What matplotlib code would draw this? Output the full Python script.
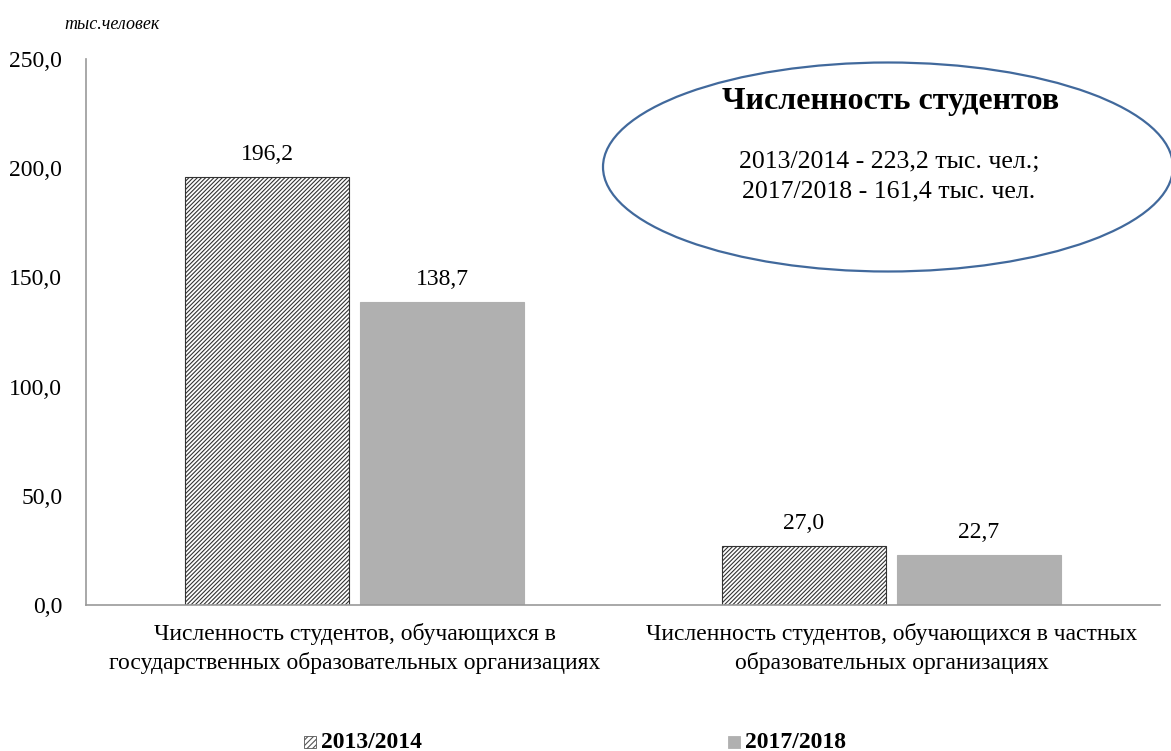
import numpy as np
import matplotlib.pyplot as plt
from matplotlib.patches import Ellipse, Rectangle

plt.rcParams['font.family'] = ['Liberation Serif', 'DejaVu Serif']
plt.rcParams['hatch.linewidth'] = 0.8

categories = ['Численность студентов, обучающихся в\nгосударственных образовательных организациях',
              'Численность студентов, обучающихся в частных\nобразовательных организациях']
years = ['2013/2014', '2017/2018']
vals_2013 = [196.2, 27.0]
vals_2018 = [138.7, 22.7]
yticks = [0, 50, 100, 150, 200, 250]

fig = plt.figure(figsize=(11.71, 7.51), dpi=100)
ax = fig.add_axes([0.0734, 0.1944, 0.9172, 0.727])

x = np.arange(len(categories))
w = 0.304
off = 0.163
b1 = ax.bar(x - off, vals_2013, w, color='white', edgecolor='#333333', hatch='////////', linewidth=0.8)
b2 = ax.bar(x + off, vals_2018, w, color='#b0b0b0', edgecolor='#b0b0b0', linewidth=0.8)
for bars, vals in ((b1, vals_2013), (b2, vals_2018)):
    for r, v in zip(bars, vals):
        ax.text(r.get_x() + r.get_width() / 2, v + 5.5, f'{v:.1f}'.replace('.', ','),
                ha='center', va='bottom', fontsize=17)

ax.set_xlim(-0.5, 1.5)
ax.set_ylim(0, 250)
ax.set_yticks(yticks)
ax.set_yticklabels([f'{t:.1f}'.replace('.', ',') for t in yticks], fontsize=17)
ax.set_xticks(x)
ax.set_xticklabels(categories, fontsize=17, linespacing=1.4)
ax.tick_params(length=0)
ax.tick_params(axis='x', pad=13)
ax.tick_params(axis='y', pad=17)
for s in ('top', 'right'):
    ax.spines[s].set_visible(False)
for s in ('left', 'bottom'):
    ax.spines[s].set_color('#999999')
    ax.spines[s].set_linewidth(1.2)

fig.text(0.055, 0.968, 'тыс.человек', fontsize=13, style='italic', va='center')

# ellipse with summary
ell = Ellipse((888 / 1171, 1 - 167 / 751), 570 / 1171, 209 / 751, transform=fig.transFigure,
              facecolor='white', edgecolor='#41699c', linewidth=1.6, clip_on=False)
fig.patches.append(ell)
fig.text(891 / 1171, 1 - 102 / 751, 'Численность студентов', fontsize=23, fontweight='bold',
         ha='center', va='center')
fig.text(889 / 1171, 1 - 177 / 751, '2013/2014 - 223,2 тыс. чел.;\n2017/2018 - 161,4 тыс. чел.',
         fontsize=18.5, ha='center', va='center', linespacing=1.45)

# legend
fig.patches.append(Rectangle((304 / 1171, 1 - 748 / 751), 12 / 1171, 12 / 751, transform=fig.transFigure,
                             facecolor='white', edgecolor='#555555', hatch='//////', linewidth=0.6))
fig.text(321 / 1171, 1 - 748 / 751, years[0], fontsize=17, fontweight='bold', va='baseline')
fig.patches.append(Rectangle((728 / 1171, 1 - 748 / 751), 12 / 1171, 12 / 751, transform=fig.transFigure,
                             facecolor='#b0b0b0', edgecolor='#b0b0b0', linewidth=0.6))
fig.text(745 / 1171, 1 - 748 / 751, years[1], fontsize=17, fontweight='bold', va='baseline')

fig.savefig('out.png', dpi=100)
